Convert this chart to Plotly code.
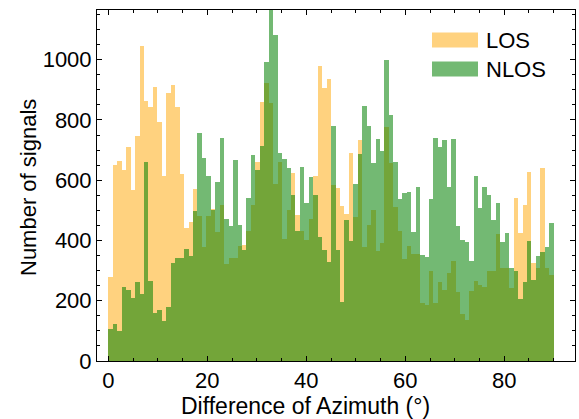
import plotly.graph_objects as go

bin_start = 0.0
bin_width = 0.9

los = [280, 652, 663, 633, 711, 567, 747, 1047, 864, 844,
       908, 792, 614, 889, 917, 844, 620, 441, 461, 572,
       480, 378, 480, 505, 428, 517, 322, 342, 342, 383,
       385, 433, 517, 659, 859, 922, 856, 589, 659, 406,
       502, 624, 483, 433, 402, 472, 614, 978, 906, 937,
       583, 574, 514, 489, 689, 478, 733, 378, 450, 502,
       364, 392, 778, 656, 511, 431, 337, 383, 356, 356,
       194, 187, 300, 191, 261, 237, 291, 333, 228, 156,
       136, 233, 267, 252, 244, 298, 300, 422, 309, 309,
       241, 542, 424, 517, 628, 324, 309, 639, 309, 286]

nlos = [105, 122, 100, 244, 237, 208, 263, 224, 661, 267,
        159, 170, 133, 178, 326, 342, 341, 372, 350, 498,
        756, 674, 614, 500, 594, 739, 472, 447, 667, 453,
        370, 541, 683, 633, 714, 992, 1170, 1083, 692, 669,
        639, 552, 433, 644, 526, 611, 552, 411, 370, 328,
        781, 369, 197, 467, 397, 586, 687, 848, 781, 656,
        737, 698, 1000, 817, 661, 539, 558, 561, 428, 576,
        353, 344, 539, 739, 709, 733, 578, 737, 448, 402,
        394, 333, 614, 508, 576, 550, 467, 526, 394, 424,
        309, 300, 206, 261, 397, 270, 347, 361, 378, 459]

series_names = ["LOS", "NLOS"]
series_colors = ["rgba(255,165,0,0.5)", "rgba(0,128,0,0.55)"]
x_title = "Difference of Azimuth (°)"
y_title = "Number of signals"

centers = [bin_start + bin_width * (i + 0.5) for i in range(len(los))]

font = "Liberation Sans, Arial, sans-serif"

fig = go.Figure()
for name, vals, col in zip(series_names, [los, nlos], series_colors):
    fig.add_trace(go.Bar(x=centers, y=vals, width=bin_width, name=name,
                         showlegend=False,
                         marker=dict(color=col, line=dict(width=0))))

L, R, T, B = 97, 575, 10, 361
W, H = R - L, B - T
def px(x):
    return (x - L) / W
def py(y):
    return (B - y) / H

# custom legend with wide patches
for i, (name, col) in enumerate(zip(series_names, series_colors)):
    yc = 40 + 29 * i
    fig.add_shape(type="rect", xref="paper", yref="paper",
                  x0=px(432), x1=px(478), y0=py(yc + 7.5), y1=py(yc - 7.5),
                  fillcolor=col, line=dict(width=0))
    fig.add_annotation(xref="paper", yref="paper", x=px(484), y=py(yc),
                       text=name, showarrow=False, xanchor="left", yanchor="middle",
                       font=dict(family=font, size=22, color="black"))

# axis titles
fig.add_annotation(xref="paper", yref="paper", x=px(305), y=py(406),
                   text=x_title, showarrow=False, xanchor="center", yanchor="middle",
                   font=dict(family=font, size=23, color="black"))
fig.add_annotation(xref="paper", yref="paper", x=px(28), y=py(188),
                   text=y_title, showarrow=False, xanchor="center", yanchor="middle",
                   textangle=-90,
                   font=dict(family=font, size=22, color="black"))

axis_common = dict(showline=True, linecolor="black", linewidth=1, mirror="allticks",
                   ticks="inside", ticklen=5, tickcolor="black", showgrid=False,
                   zeroline=False, tickfont=dict(family=font, size=22, color="black"))

fig.update_layout(
    width=579, height=419,
    margin=dict(l=L, r=579 - R, t=T, b=419 - B),
    barmode="overlay", bargap=0,
    plot_bgcolor="white", paper_bgcolor="white",
    showlegend=False,
    xaxis=dict(range=[-2.3, 94.3], tickvals=[0, 20, 40, 60, 80],
               minor=dict(dtick=5, ticks="inside", ticklen=3, tickcolor="black"),
               **axis_common),
    yaxis=dict(range=[0, 1165], tickvals=[0, 200, 400, 600, 800, 1000],
               minor=dict(dtick=50, ticks="inside", ticklen=3, tickcolor="black"),
               **axis_common),
)

fig.write_html("out.html")
